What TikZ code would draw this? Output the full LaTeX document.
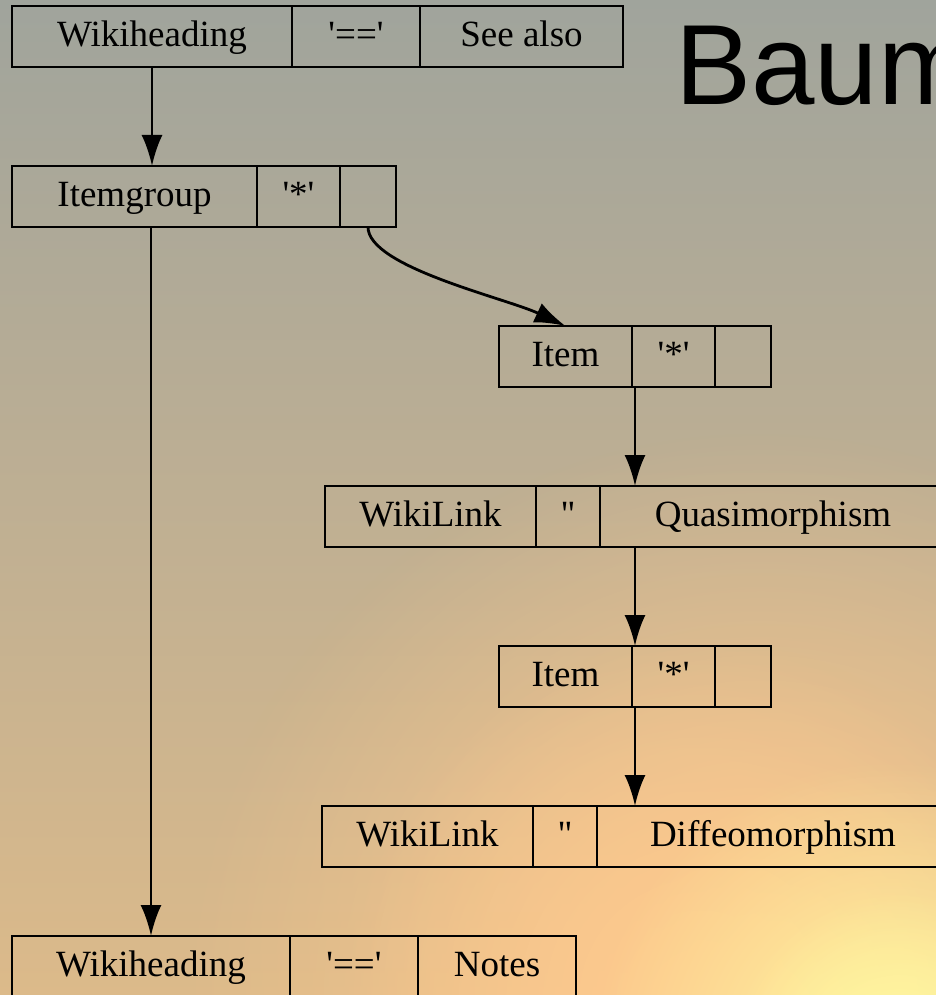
\documentclass[tikz,border=0pt]{standalone}
\usepackage{fontspec}
\setmainfont{Liberation Serif}[Ligatures=TeXOff]
\newfontfamily\titlefont{Liberation Sans}
\usepackage{tikz}
\usetikzlibrary{positioning, arrows.meta, fadings}

\definecolor{bgtop}{RGB}{160,164,156}
\definecolor{bgmid}{RGB}{185,175,150}
\definecolor{bgbot}{RGB}{220,186,138}
\definecolor{warm}{RGB}{254,202,142}
\definecolor{sunny}{RGB}{255,247,160}

\tikzfading[name=glow, inner color=transparent!0, outer color=transparent!100]

\begin{document}
\begin{tikzpicture}[
        x=1pt, y=-1pt,
        node distance=0pt,
        % Style des champs d'un enregistrement
        cell/.style={
            rectangle,
            draw=black,
            line width=2.9pt,
            outer sep=0pt,
            inner sep=0pt,
            minimum height=61pt,
            font=\fontsize{37}{44}\selectfont,
            text height=26pt,
            text depth=6pt
        },
        % Style des flèches
        arr/.style={
            -{Latex[length=31pt,width=21pt]},
            line width=2.8pt
        }
    ]

    \useasboundingbox (0,0) rectangle (936,995);

    % --- FOND ---
    \shade[top color=bgtop, middle color=bgmid, bottom color=bgbot] (0,0) rectangle (936,995);
    \fill[warm, path fading=glow] (760,1010) circle (580);
    \fill[warm, path fading=glow] (700,1000) circle (360);
    \fill[sunny, path fading=glow] (890,1060) circle (300);
    \fill[sunny, path fading=glow] (900,1060) circle (170);

    % --- TITRE ---
    \node[anchor=base west, inner sep=0pt, font=\titlefont\fontsize{114}{120}\selectfont] (title) at (675,105) {Baum};

    % --- WIKIHEADING : SEE ALSO ---
    \node[cell, minimum width=280pt, anchor=west] (head1) at (12,36.5) {Wikiheading};
    \node[cell, minimum width=128pt, right=of head1] (head1op) {'=='};
    \node[cell, minimum width=203pt, right=of head1op] (head1txt) {See also};

    % --- ITEMGROUP ---
    \node[cell, minimum width=245pt, anchor=west] (group) at (12,196.5) {Itemgroup};
    \node[cell, minimum width=83pt, right=of group] (groupop) {'*'};
    \node[cell, minimum width=56pt, right=of groupop] (groupsub) {};

    % --- ITEM 1 ---
    \node[cell, minimum width=133pt, anchor=west] (item1) at (499,356.5) {Item};
    \node[cell, minimum width=83pt, right=of item1] (item1op) {'*'};
    \node[cell, minimum width=56pt, right=of item1op] (item1sub) {};

    % --- WIKILINK 1 ---
    \node[cell, minimum width=211pt, anchor=west] (link1) at (325,516.5) {WikiLink};
    \node[cell, minimum width=64pt, right=of link1] (link1op) {''};
    \node[cell, minimum width=346pt, right=of link1op] (link1txt) {Quasimorphism};

    % --- ITEM 2 ---
    \node[cell, minimum width=133pt, anchor=west] (item2) at (499,676.5) {Item};
    \node[cell, minimum width=83pt, right=of item2] (item2op) {'*'};
    \node[cell, minimum width=56pt, right=of item2op] (item2sub) {};

    % --- WIKILINK 2 ---
    \node[cell, minimum width=211pt, anchor=west] (link2) at (322,836.5) {WikiLink};
    \node[cell, minimum width=64pt, right=of link2] (link2op) {''};
    \node[cell, minimum width=352pt, right=of link2op] (link2txt) {Diffeomorphism};

    % --- WIKIHEADING : NOTES ---
    \node[cell, minimum width=278pt, anchor=west] (head2) at (12,966.5) {Wikiheading};
    \node[cell, minimum width=128pt, right=of head2] (head2op) {'=='};
    \node[cell, minimum width=158pt, right=of head2op] (head2txt) {Notes};

    % --- FLÈCHES ---
    \draw[arr] (head1.south) -- (head1.south |- group.north);
    \draw[arr] (head2.north |- group.south) -- (head2.north);
    \draw[arr] (groupsub.south) .. controls +(0,40) and +(-60,-28) .. (item1.north);
    \draw[arr] ([xshift=3pt]item1op.south west) -- ([xshift=3pt]item1op.south west |- link1txt.north);
    \draw[arr] ([xshift=3pt]item1op.south west |- link1txt.south) -- ([xshift=3pt]item1op.south west |- item2op.north);
    \draw[arr] ([xshift=3pt]item2op.south west) -- ([xshift=3pt]item2op.south west |- link2txt.north);

\end{tikzpicture}
\end{document}
